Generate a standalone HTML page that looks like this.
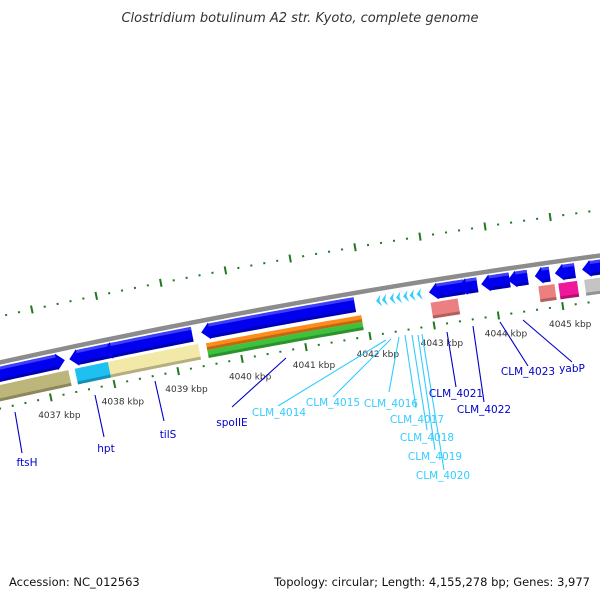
<!DOCTYPE html>
<html><head><meta charset="utf-8"><style>
html,body{margin:0;padding:0;background:#fff;}
svg{display:block;}
text{font-family:"DejaVu Sans","Liberation Sans",sans-serif;}
</style></head><body>
<svg id="map" width="600" height="600" viewBox="0 0 600 600" xmlns="http://www.w3.org/2000/svg">
<rect width="600" height="600" fill="#fff"/>
<text x="300" y="22" text-anchor="middle" font-style="italic" font-size="13" fill="#333">Clostridium botulinum A2 str. Kyoto, complete genome</text>
<text x="9" y="586" font-size="11.5" fill="#111">Accession: NC_012563</text>
<text x="590" y="586" text-anchor="end" font-size="11.5" fill="#111">Topology: circular; Length: 4,155,278 bp; Genes: 3,977</text>
<g id="layer"></g>
</svg>
<script>
// ---- data ----
const geneNames   = ["ftsH","hpt","tilS","spoIIE","CLM_4014","CLM_4015","CLM_4016","CLM_4017","CLM_4018","CLM_4019","CLM_4020","CLM_4021","CLM_4022","gene-x1","CLM_4023","gene-x2","yabP","gene-x3"];
const geneStarts  = [4035.5,4037.40,4037.93,4039.46,4042.18,4042.27,4042.39,4042.49,4042.60,4042.70,4042.81,4043.00,4043.45,4043.81,4044.22,4044.64,4044.95,4045.37];
const geneEnds    = [4037.33,4038.07,4039.32,4041.85,4042.26,4042.35,4042.47,4042.57,4042.68,4042.78,4042.89,4043.55,4043.75,4044.25,4044.53,4044.87,4045.26,4046.2];
const geneStrands = [1,-1,-1,-1,-1,-1,-1,-1,-1,-1,-1,-1,-1,-1,-1,-1,-1,-1];
const geneKinds   = ["cds","cds","cds","cds","trna","trna","trna","trna","trna","trna","trna","cds","cds","cds","cds","cds","cds","cds"];
const featStarts  = [4035.5,4037.45,4037.97,4039.50,4039.50,4043.00,4044.67,4044.98,4045.38];
const featEnds    = [4037.35,4037.97,4039.38,4041.92,4041.92,4043.42,4044.92,4045.27,4046.2];
const featColors  = ["#bdb67a","#1ec0f2","#f2e8a8","#ff8c1a","#3cc23c","#ec8080","#ec8080","#f0189a","#c4c4c4"];
const featLanes   = [0,0,0,1,2,0,0,0,0];
const tickKbp     = [4037,4038,4039,4040,4041,4042,4043,4044,4045];
const labelTexts  = ["ftsH","hpt","tilS","spoIIE","CLM_4014","CLM_4015","CLM_4016","CLM_4017","CLM_4018","CLM_4019","CLM_4020","CLM_4021","CLM_4022","CLM_4023","yabP"];
const labelColors = ["#0000cc","#0000cc","#0000cc","#0000cc","#33ccff","#33ccff","#33ccff","#33ccff","#33ccff","#33ccff","#33ccff","#0000cc","#0000cc","#0000cc","#0000cc"];
// layout for labels (line start, line end, text x, text y)
const labelLayout = [
 [15,412,22,453,27,466],[95,395,104,437,106,452],[155,381,164,421,168,438],[286,358,232,407,232,426],
 [386,340,278,406,279,416],[391,339,333,397,333,406],[399,337,389,392,391,407],[405,335,416,408,417,423],
 [412,335,427,430,427,441],[418,335,435,450,435,460],[422,334,444,470,443,479],[447,332,456,387,456,397],
 [473,326,484,402,484,413],[500,322,528,366,528,375],[523,320,572,362,572,372]];

// ---- geometry ----
const CX=1573, CY=7449, R=7259;
const PHI0=-0.2126, DPHI=0.009013;
function ang(k){return PHI0+(k-4037)*DPHI;}
function pt(k,off){const r=R+off,a=ang(k);return [CX+r*Math.sin(a),CY-r*Math.cos(a)];}
const NS="http://www.w3.org/2000/svg";
const layer=document.getElementById('layer');
function mk(tag,attrs){const e=document.createElementNS(NS,tag);for(const k in attrs)e.setAttribute(k,attrs[k]);layer.appendChild(e);return e;}
function arcPts(a,b,off,n){const p=[];for(let i=0;i<=n;i++){p.push(pt(a+(b-a)*i/n,off));}return p;}
function poly(points){return points.map(p=>p[0].toFixed(2)+","+p[1].toFixed(2)).join(" ");}

// ticks rings
for(let k=4035.0;k<=4047.01;k+=0.2){
  const kk=Math.round(k*10)/10;
  const major=Math.abs(kk-Math.round(kk))<0.01;
  [45,-45].forEach(off=>{
    const d=major?4:1;
    const a=pt(kk,off-d),b=pt(kk,off+d);
    const t=mk('line',{x1:a[0],y1:a[1],x2:b[0],y2:b[1],stroke:'#1f7a1f','stroke-width':2});
    
    
  });
}
// backbone
{
  const p=arcPts(4034,4048,0,60);
  const e=mk('polyline',{points:poly(p),fill:'none',stroke:'#8c8c8c','stroke-width':4.5});
  
  
}
// tick labels
tickKbp.forEach(k=>{
  const p=pt(k,-62);
  const t=mk('text',{x:p[0]+5,y:p[1]+4,'text-anchor':'middle','font-size':'9','fill':'#333'});
  t.textContent=k+" kbp";
  
  
});
// features row 2
featStarts.forEach((s,i)=>{
  const e=featEnds[i];
  let o1=-22,o2=-38;
  if(featLanes[i]===1){o1=-23;o2=-30;}
  if(featLanes[i]===2){o1=-30;o2=-38;}
  const top=arcPts(s,e,o1,20),bot=arcPts(s,e,o2,20).reverse();
  const g=mk('polygon',{points:poly(top.concat(bot)),fill:featColors[i]});
  
  
  const sh1=arcPts(s,e,o2+3,20),sh2=arcPts(s,e,o2,20).reverse();
  const sh=mk('polygon',{points:poly(sh1.concat(sh2)),fill:'#000','fill-opacity':0.25});
  
  
});
// genes row 1
geneStarts.forEach((s,i)=>{
  const e=geneEnds[i],st=geneStrands[i],trna=geneKinds[i]==='trna';
  const o1=-4,o2=-19,mid=(o1+o2)/2;
  let pts;
  if(trna){
    const tip=st>0?e:s, base=st>0?s:e;
    const notch=base+(tip-base)*0.35;
    pts=[pt(tip,mid),pt(base,-6),pt(notch,mid),pt(base,-18)];
  } else {
    const h=Math.min(0.13,(e-s)*0.5);
    if(st>0){
      pts=arcPts(s,e-h,o1,15).concat([pt(e-h,o1+1),pt(e,mid),pt(e-h,o2-1)]).concat(arcPts(s,e-h,o2,15).reverse());
    } else {
      pts=[pt(s,mid),pt(s+h,o1+1)].concat(arcPts(s+h,e,o1,15)).concat(arcPts(s+h,e,o2,15).reverse()).concat([pt(s+h,o2-1)]);
    }
  }
  const g=mk('polygon',{points:poly(pts),fill:trna?'#33ccff':'#0000ee'});
  
  
  if(!trna){
    const h=Math.min(0.13,(e-s)*0.5);
    const a=st>0?s:s+h,b=st>0?e-h:e;
    const hl=mk('polygon',{points:poly(arcPts(a,b,o1,10).concat(arcPts(a,b,o1-3,10).reverse())),fill:'#5a5aff','fill-opacity':0.7});
    
    
    const dk=mk('polygon',{points:poly(arcPts(a,b,o2+3,10).concat(arcPts(a,b,o2,10).reverse())),fill:'#000080','fill-opacity':0.5});
    
    
  }
});
// labels
labelTexts.forEach((t,i)=>{
  const L=labelLayout[i];
  const ln=mk('line',{x1:L[0],y1:L[1],x2:L[2],y2:L[3],stroke:labelColors[i],'stroke-width':1.1});
  
  
  const tx=mk('text',{x:L[4],y:L[5],'text-anchor':'middle','font-size':'10.5',fill:labelColors[i]});
  tx.textContent=t;
  
  
});
</script>
</body></html>
